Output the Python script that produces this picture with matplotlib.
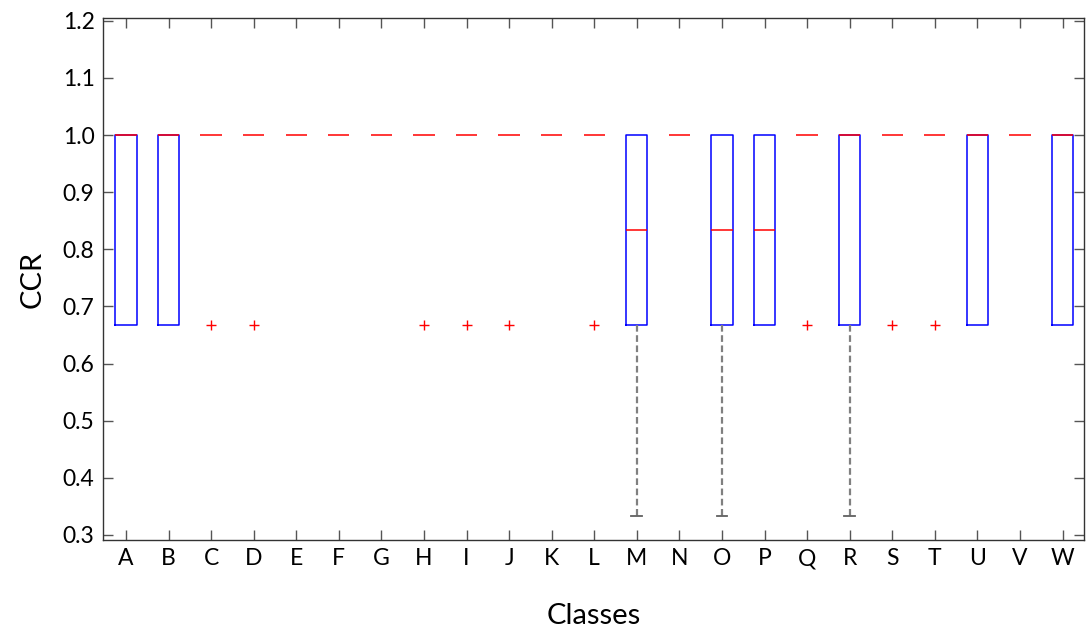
import matplotlib
matplotlib.use("Agg")
import matplotlib.pyplot as plt
from matplotlib.ticker import FormatStrFormatter

plt.rcParams["font.family"] = ["Lato", "DejaVu Sans"]

# CCR-Verteilung je Klasse (Boxplot-Kennwerte)
classes = list("ABCDEFGHIJKLMNOPQRSTUVW")
q1 = [0.6667, 0.6667, 1, 1, 1, 1, 1, 1, 1, 1, 1, 1,
      0.6667, 1, 0.6667, 0.6667, 1, 0.6667, 1, 1, 0.6667, 1, 0.6667]
med = [1, 1, 1, 1, 1, 1, 1, 1, 1, 1, 1, 1,
       0.8333, 1, 0.8333, 0.8333, 1, 1, 1, 1, 1, 1, 1]
q3 = [1] * 23
whislo = [0.6667, 0.6667, 1, 1, 1, 1, 1, 1, 1, 1, 1, 1,
          0.3333, 1, 0.3333, 0.6667, 1, 0.3333, 1, 1, 0.6667, 1, 0.6667]
whishi = [1] * 23
fliers = [[], [], [0.6667], [0.6667], [], [], [], [0.6667], [0.6667], [0.6667], [], [0.6667],
          [], [], [], [], [0.6667], [], [0.6667], [0.6667], [], [], []]

stats = [dict(label=c, q1=a, med=m, q3=b, whislo=lo, whishi=hi, fliers=f)
         for c, a, m, b, lo, hi, f in zip(classes, q1, med, q3, whislo, whishi, fliers)]

fig = plt.figure(figsize=(10.86, 6.3), dpi=100)
ax = fig.add_axes([0.0948, 0.1429, 0.9032, 0.8285])

art = ax.bxp(stats, positions=range(1, len(classes) + 1), widths=0.5, capwidths=0.25,
             boxprops=dict(color="#0000ff", lw=1.1),
             medianprops=dict(color="#ff0000", lw=1.1),
             whiskerprops=dict(color="#808080", lw=1.6, linestyle=(0, (3, 1.6))),
             capprops=dict(color="#606060", lw=1.3),
             flierprops=dict(marker="+", markeredgecolor="#ff0000", markersize=7,
                             markeredgewidth=1.0, linestyle="none"))

# Kappen/Whisker ohne Laenge und zusammengefallene Boxen ausblenden
for i, s in enumerate(stats):
    if s["whislo"] >= s["q1"]:
        art["caps"][2 * i].set_visible(False)
        art["whiskers"][2 * i].set_visible(False)
    if s["whishi"] <= s["q3"]:
        art["caps"][2 * i + 1].set_visible(False)
        art["whiskers"][2 * i + 1].set_visible(False)
    if s["q1"] == s["q3"]:
        art["boxes"][i].set_visible(False)

ax.set_xlim(0.46, 23.5)
ax.set_ylim(0.291, 1.205)
ax.set_yticks([0.3 + 0.1 * k for k in range(10)])
ax.yaxis.set_major_formatter(FormatStrFormatter("%.1f"))
ax.tick_params(direction="in", length=7, width=1, color="#555555",
               top=True, right=True, labelsize=16.5, pad=6)
for sp in ax.spines.values():
    sp.set_color("#333333")
    sp.set_linewidth(1)

ax.set_xlabel("Classes", fontsize=21, labelpad=24)
ax.set_ylabel("CCR", fontsize=21, labelpad=12)

plt.savefig("out.png", dpi=100)
